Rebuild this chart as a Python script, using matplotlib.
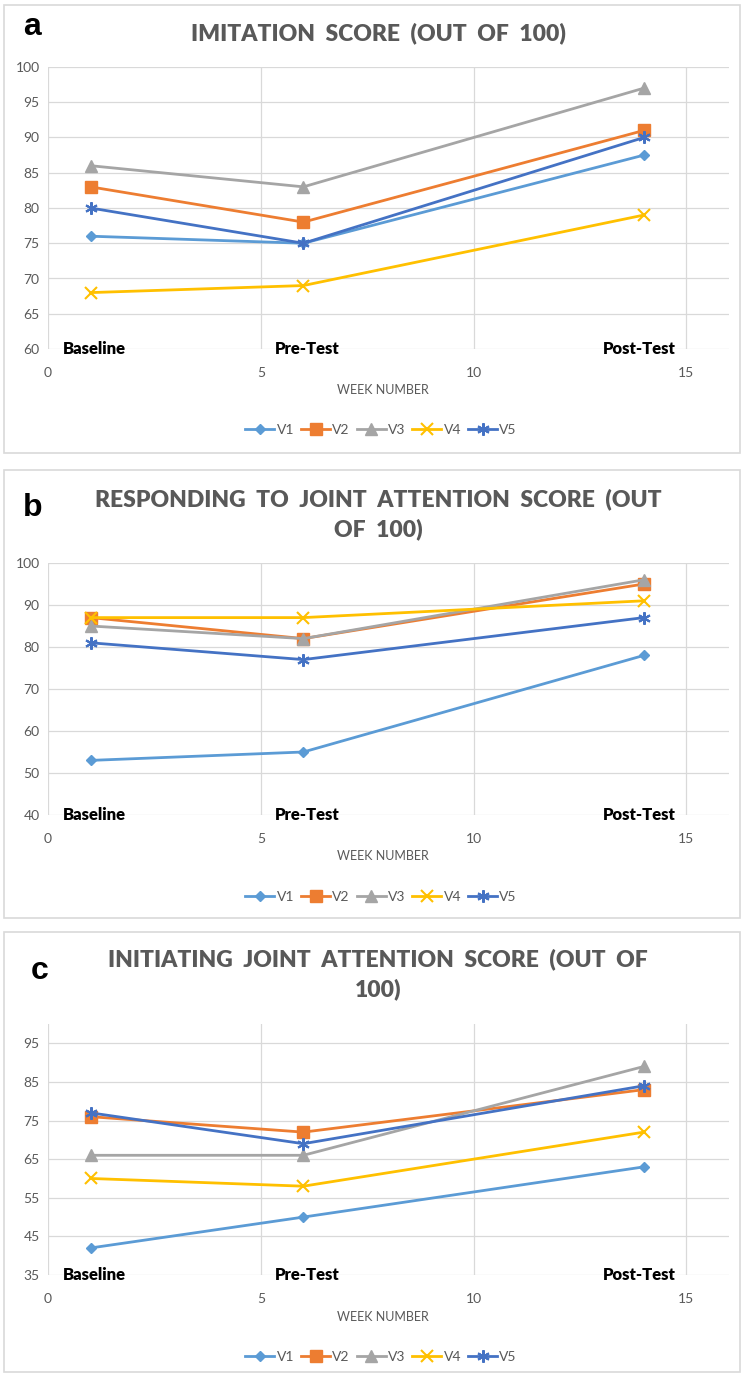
import matplotlib
matplotlib.use("Agg")
import matplotlib.pyplot as plt
from matplotlib.patches import Rectangle

# week numbers of the three assessments
weeks = [1, 6, 14]
phase_names = ["Baseline", "Pre-Test", "Post-Test"]
phase_x = [1.1, 6.1, 13.9]
series_names = ["V1", "V2", "V3", "V4", "V5"]

imitation_v1 = [76, 75, 87.5]
imitation_v2 = [83, 78, 91]
imitation_v3 = [86, 83, 97]
imitation_v4 = [68, 69, 79]
imitation_v5 = [80, 75, 90]

rja_v1 = [53, 55, 78]
rja_v2 = [87, 82, 95]
rja_v3 = [85, 82, 96]
rja_v4 = [87, 87, 91]
rja_v5 = [81, 77, 87]

ija_v1 = [42, 50, 63]
ija_v2 = [76, 72, 83]
ija_v3 = [66, 66, 89]
ija_v4 = [60, 58, 72]
ija_v5 = [77, 69, 84]

colors = ["#5B9BD5", "#ED7D31", "#A5A5A5", "#FFC000", "#4472C4"]
markers = ["D", "s", "^", "x", (6, 2, 0)]
msizes = [5.5, 8, 8, 8, 9]

plt.rcParams['font.family'] = ['Lato', 'DejaVu Sans']

fig = plt.figure(figsize=(7.44, 13.75), dpi=100)
W, H = 744.0, 1375.0

def box(y0, y1):
    # light grey frame around each panel
    fig.patches.append(Rectangle((4 / W, 1 - y1 / H), 736 / W, (y1 - y0) / H,
                                 transform=fig.transFigure, fill=False,
                                 edgecolor="#D9D9D9", linewidth=1.2))

def panel(top, bottom, data, ylim, yticks, letter, letter_y, title_lines, title_y,
          xtick_y, xlabel_y, legend_y):
    ax = fig.add_axes([48 / W, 1 - bottom / H, 681 / W, (bottom - top) / H])
    for vals, c, m, ms, name in zip(data, colors, markers, msizes, series_names):
        ax.plot(weeks, vals, color=c, marker=m, markersize=ms, linewidth=2,
                markeredgewidth=1.5 if m in ("x",) or isinstance(m, tuple) else 1,
                label=name)
    ax.set_xlim(0, 16)
    ax.set_ylim(*ylim)
    ax.set_xticks([0, 5, 10, 15])
    ax.set_yticks(yticks)
    ax.grid(True, color="#D9D9D9", linewidth=0.9)
    ax.set_axisbelow(True)
    for s in ax.spines.values():
        s.set_visible(False)
    ax.tick_params(length=0, labelsize=10, labelcolor="#595959", pad=6)
    ax.tick_params(axis="x", pad=(xtick_y - bottom) - 6)
    for px, name in zip(phase_x, phase_names):
        ax.text(px, ylim[0], name, ha="center", va="center", fontsize=12,
                fontweight="heavy", color="black")
    fig.text(383 / W, 1 - xlabel_y / H, "WEEK NUMBER", ha="center", va="center",
             fontsize=9, color="#595959")
    for i, line in enumerate(title_lines):
        fig.text(378 / W, 1 - (title_y + i * 30) / H, line, ha="center", va="center",
                 fontsize=16.5, fontweight="heavy", color="#595959")
    fig.text(letter[1] / W, 1 - letter_y / H, letter[0], ha="center", va="center",
             fontsize=23, fontweight="bold", color="black", family=['Liberation Sans', 'DejaVu Sans'])
    fig.legend(*ax.get_legend_handles_labels(), loc="center", ncol=5,
               bbox_to_anchor=(381 / W, 1 - legend_y / H), frameon=False,
               fontsize=10, handlelength=2.1, handletextpad=0.15, columnspacing=0.5,
               labelcolor="#595959")
    return ax

box(5, 453)
panel(67, 349, [imitation_v1, imitation_v2, imitation_v3, imitation_v4, imitation_v5],
      (60, 100), range(60, 101, 5), ("a", 32), 27,
      ["IMITATION  SCORE  (OUT  OF  100)"], 33, 368, 390, 430)

box(470, 918)
panel(563, 815, [rja_v1, rja_v2, rja_v3, rja_v4, rja_v5],
      (40, 100), range(40, 101, 10), ("b", 33), 508,
      ["RESPONDING  TO  JOINT  ATTENTION  SCORE  (OUT", "OF  100)"], 499, 834, 856, 897)

box(932, 1372)
panel(1024, 1275, [ija_v1, ija_v2, ija_v3, ija_v4, ija_v5],
      (35, 100), range(35, 96, 10), ("c", 40), 971,
      ["INITIATING  JOINT  ATTENTION  SCORE  (OUT  OF", "100)"], 959, 1294, 1317, 1357)

fig.savefig("out.png", dpi=100)
